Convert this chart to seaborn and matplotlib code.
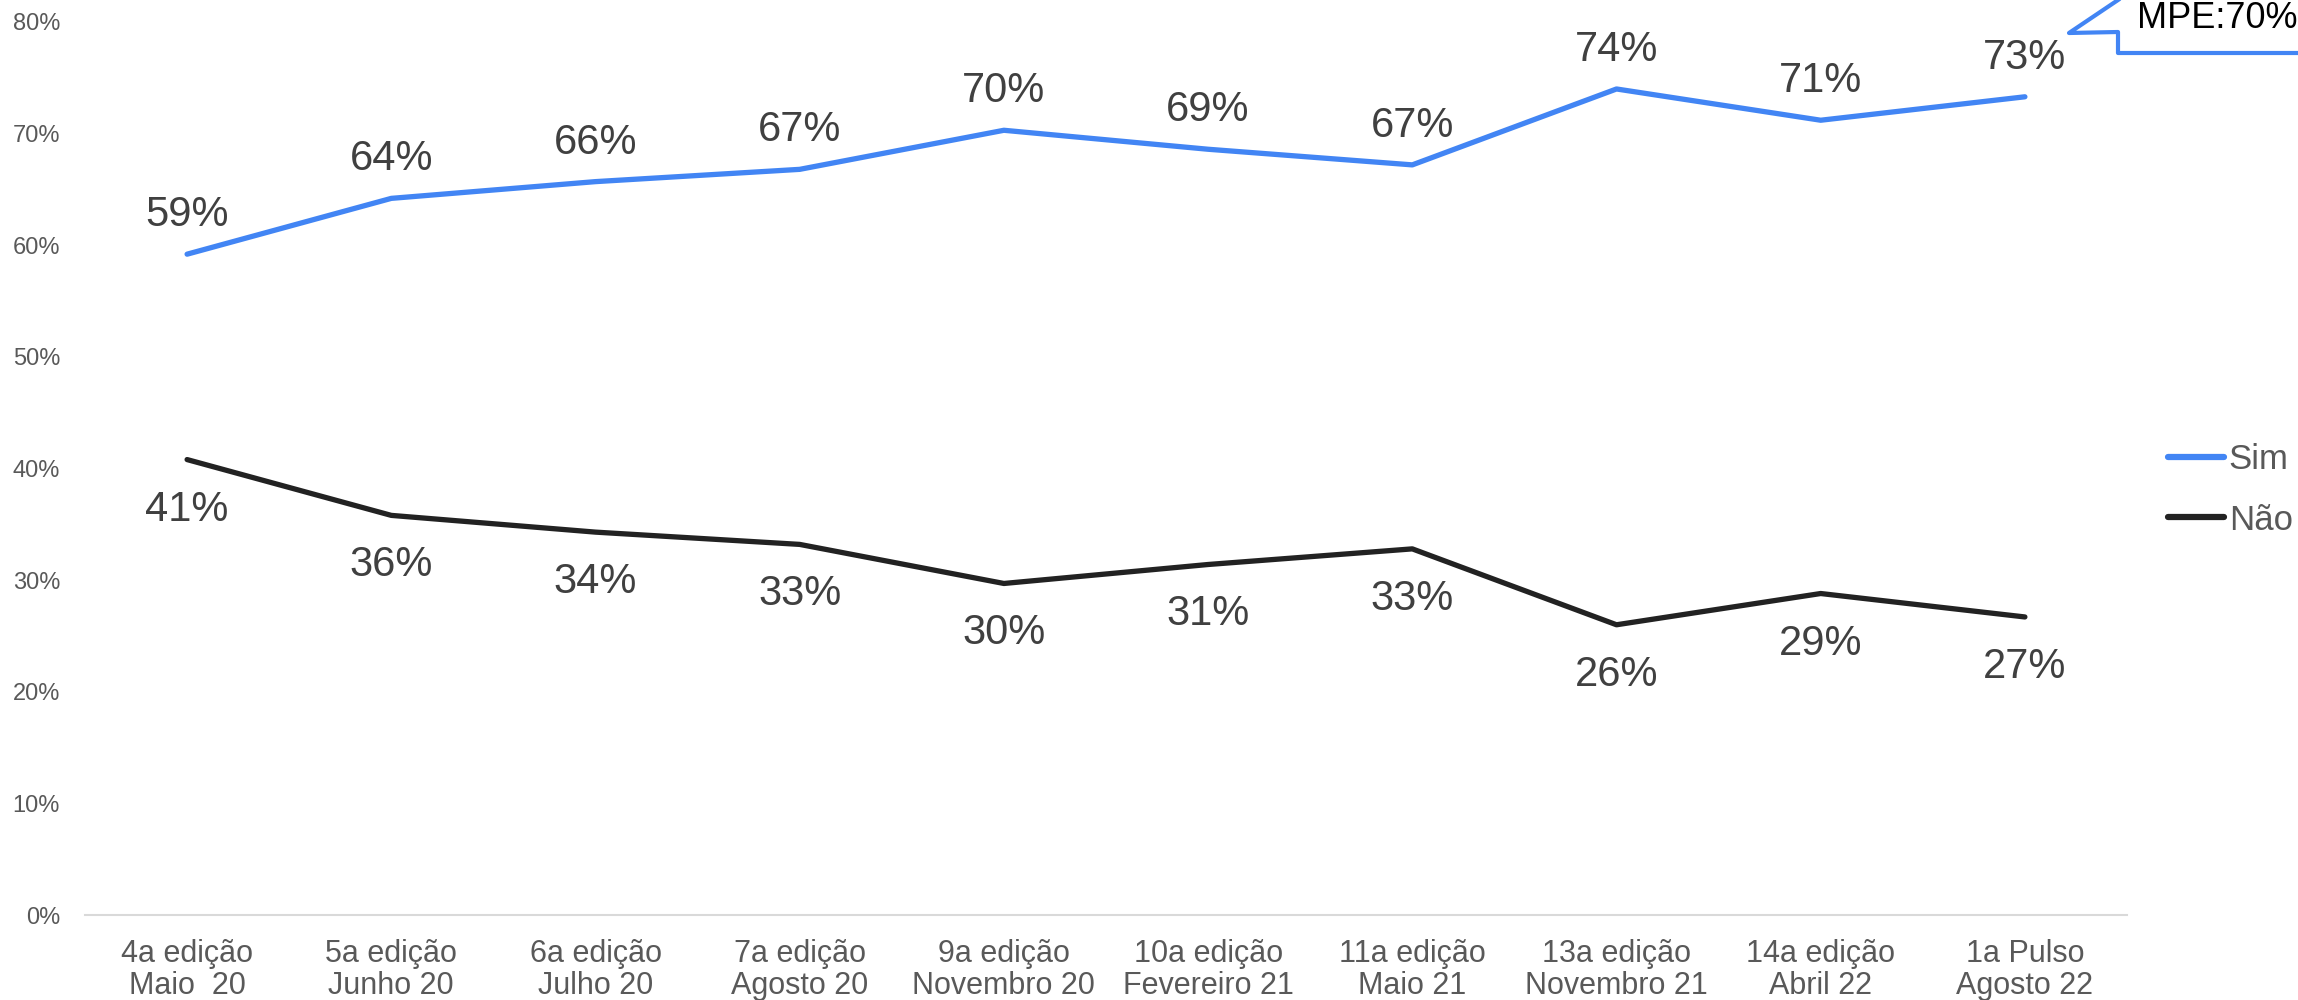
import pandas as pd
import seaborn as sns
import matplotlib
matplotlib.use("Agg")
import matplotlib.pyplot as plt
from matplotlib import font_manager
from matplotlib.lines import Line2D
from matplotlib.ticker import PercentFormatter

edicoes = ["4a edição", "5a edição", "6a edição", "7a edição", "9a edição",
           "10a edição", "11a edição", "13a edição", "14a edição", "1a Pulso"]
periodos = ["Maio  20", "Junho 20", "Julho 20", "Agosto 20", "Novembro 20",
            "Fevereiro 21", "Maio 21", "Novembro 21", "Abril 22", "Agosto 22"]
sim = [59.2, 64.2, 65.7, 66.8, 70.3, 68.6, 67.2, 74.0, 71.2, 73.3]
nao = [40.8, 35.8, 34.3, 33.2, 29.7, 31.4, 32.8, 26.0, 28.8, 26.7]
series = ["Sim", "Não"]
cores = {"Sim": "#4285F4", "Não": "#222222"}
nota = "MPE:70%"

W, H = 2298, 1000


def pick_font(cands):
    for c in cands:
        try:
            font_manager.findfont(c, fallback_to_default=False)
            return c
        except Exception:
            pass
    return "DejaVu Sans"


sns.set_style("white")
MAIN = pick_font(["Liberation Sans", "Arimo", "DejaVu Sans"])
NARROW = pick_font(["Liberation Sans Narrow", "DejaVu Sans Condensed", "Liberation Sans"])
plt.rcParams["font.family"] = [MAIN, "DejaVu Sans"]

df = pd.DataFrame({
    "x": list(range(len(edicoes))) * 2,
    "valor": sim + nao,
    "serie": ["Sim"] * len(sim) + ["Não"] * len(nao),
})

fig = plt.figure(figsize=(W / 100, H / 100), dpi=100)
ax = fig.add_axes([85 / W, 85 / H, (2127 - 85) / W, (915 - 22) / H])

sns.lineplot(data=df, x="x", y="valor", hue="serie", hue_order=series,
             palette=cores, linewidth=3.8, ax=ax, legend=False,
             solid_capstyle="round")

# rótulos de dados
for s, vals in zip(series, [sim, nao]):
    off = 28 if s == "Sim" else -36
    for i, v in enumerate(vals):
        ax.annotate(f"{v:.0f}%", (i, v), xytext=(0, off), textcoords="offset points",
                    ha="center", va="center", fontsize=30, color="#404040")

ax.set_xlim(-0.5, len(edicoes) - 0.5)
ax.set_ylim(0, 80)
ax.set_yticks(range(0, 81, 10))
ax.yaxis.set_major_formatter(PercentFormatter(decimals=0))
ax.set_xticks(range(len(edicoes)))
ax.set_xticklabels([f"{a}\n{b}" for a, b in zip(edicoes, periodos)],
                   fontsize=22, color="#595959", family=[NARROW, "DejaVu Sans"],
                   linespacing=1.12)
ax.tick_params(axis="y", labelsize=17, labelcolor="#595959", length=0, pad=18)
ax.tick_params(axis="x", length=0, pad=17)
ax.set_xlabel("")
ax.set_ylabel("")
for sp in ["top", "right", "left"]:
    ax.spines[sp].set_visible(False)
ax.spines["bottom"].set_color("#d9d9d9")
ax.spines["bottom"].set_linewidth(1.5)
ax.grid(False)

# legenda
handles = [Line2D([], [], color=cores[s], linewidth=4.5, solid_capstyle="round") for s in series]
leg = fig.legend(handles, series, loc="center left", bbox_to_anchor=(2168 / W, 1 - 490 / H),
                 frameon=False, fontsize=25, handlelength=1.6, handletextpad=0.15,
                 labelspacing=0.78, borderpad=0, borderaxespad=0)
for t in leg.get_texts():
    t.set_color("#595959")

# balão "MPE"
px = [2305, 2118, 2118, 2069, 2121]
py = [53, 53, 32, 33, -2]
fig.add_artist(Line2D([p / W for p in px], [1 - p / H for p in py], color="#4285F4",
                      linewidth=3, transform=fig.transFigure, clip_on=False))
fig.text(2137 / W, 1 - 18 / H, nota, fontsize=26, color="black", ha="left", va="center")

fig.savefig("out.png", dpi=100)
